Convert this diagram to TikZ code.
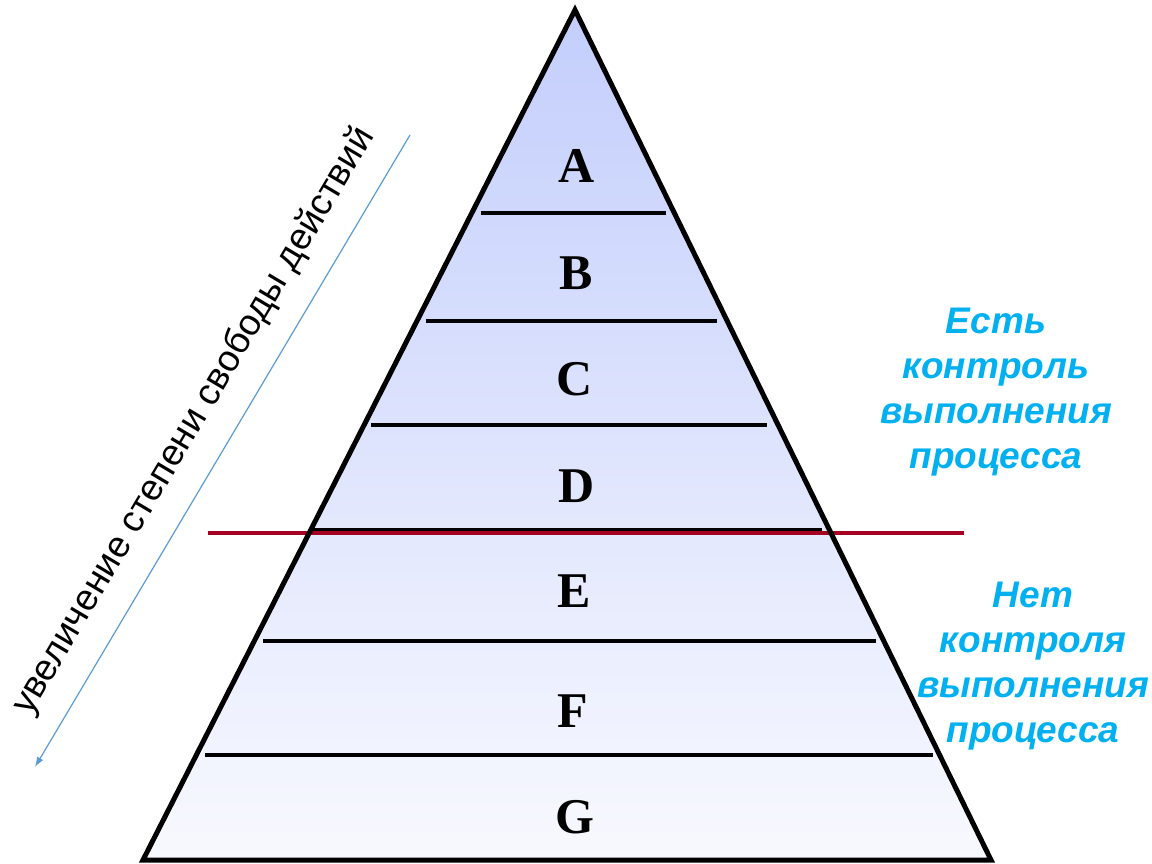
\documentclass[tikz,border=0pt]{standalone}
\usepackage{fontspec}
\setmainfont{Liberation Serif}
\newfontfamily\arialf{Liberation Sans}
\usetikzlibrary{arrows.meta}
\definecolor{topblue}{HTML}{C3CEFC}
\definecolor{botblue}{HTML}{F8F9FE}
\definecolor{ctrlred}{HTML}{A50021}
\definecolor{cyantext}{HTML}{00B0F0}
\definecolor{arrowblue}{HTML}{5B9BD5}
\tikzset{
  level/.style={font=\bfseries\fontsize{50}{54}\selectfont, inner sep=0pt},
  divider/.style={line width=3.5pt, black},
  sidetext/.style={font=\arialf\bfseries\itshape\fontsize{37}{45}\selectfont, text=cyantext, align=center, inner sep=0pt},
}
\begin{document}
\begin{tikzpicture}[x=1pt,y=-1pt]
\useasboundingbox (0,0) rectangle (1152,864);
\coordinate (apex) at (575,10);
\coordinate (bl) at (143,860);
\coordinate (br) at (991,860);
\shade[top color=topblue, bottom color=botblue] (apex) -- (br) -- (bl) -- cycle;
% dividers
\draw[divider] (481,213) -- (666,213);
\draw[divider] (426,321) -- (717,321);
\draw[divider] (371,425) -- (767,425);
\draw[divider] (313,530) -- (822,530);
\draw[divider] (263,641) -- (876,641);
\draw[divider] (205,755) -- (933,755);
% red control line
\coordinate (rl) at (208,533);
\coordinate (rr) at (964,533);
\draw[line width=4pt, ctrlred] (rl) -- (rr);
% triangle outline
\draw[line width=5pt, line join=miter] (apex) -- (br) -- (bl) -- cycle;
% letters
\node[level] (A) at (577,166) {A};
\node[level] (B) at (576,273) {B};
\node[level] (C) at (575,379) {C};
\node[level] (D) at (577,486) {D};
\node[level] (E) at (574,591) {E};
\node[level] (F) at (573,711) {F};
\node[level] (G) at (575,817) {G};
% arrow
\coordinate (as) at (410,135);
\coordinate (ae) at (35,767);
\draw[arrowblue, line width=1.2pt, -{Latex[length=10pt,width=7pt]}] (as) -- (ae);
\node[font=\arialf\fontsize{37}{40}\selectfont, rotate=59.3, inner sep=0pt] (freedom) at (194,421) {увеличение степени свободы действий};
% side texts
\node[sidetext] (yes) at (996,392) {Есть\\контроль\\выполнения\\процесса};
\node[sidetext] (no) at (1033,666) {Нет\\контроля\\выполнения\\процесса};
\end{tikzpicture}
\end{document}
